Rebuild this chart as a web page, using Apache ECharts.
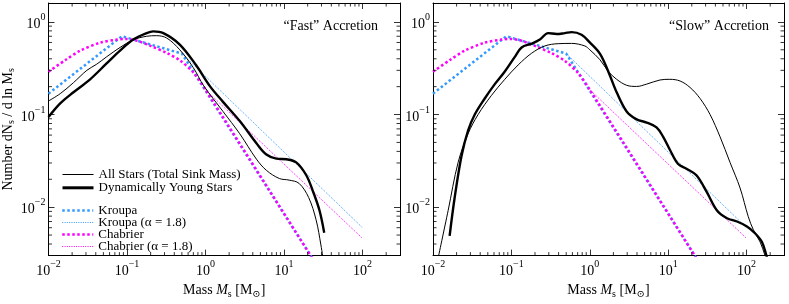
<!DOCTYPE html>
<html><head><meta charset="utf-8">
<script src="https://cdn.jsdelivr.net/npm/echarts@6/dist/echarts.min.js"></script>
<style>html,body{margin:0;padding:0;background:#fff}#c{width:789px;height:304px}</style>
</head><body><div id="c"></div>
<script>
const FONT = '"Liberation Serif", "DejaVu Serif", serif';

// ---- tick labels ----
const xTickValues = [0.01, 0.1, 1, 10, 100];
const xTickExps = ['\u22122', '\u22121', '0', '1', '2'];
const yTickValues = [0.01, 0.1, 1];
const yTickExps = ['\u22122', '\u22121', '0'];

// ---- reference IMFs (shared by both panels) ----
const kroupaM = [0.01, 0.086, 0.5, 25];
const kroupaV = [0.168, 0.70, 0.455, 0.0025];
const kroupa18M = [0.5, 100];
const kroupa18V = [0.455, 0.0060];
const chabrierM = [0.01, 0.0163, 0.0254, 0.0457, 0.075, 0.095, 0.135, 0.2, 0.325, 0.48, 0.71, 1.0, 25];
const chabrierV = [0.29, 0.386, 0.49, 0.597, 0.645, 0.655, 0.625, 0.55, 0.46, 0.38, 0.28, 0.185, 0.0025];
const chabrier18M = [1.0, 100];
const chabrier18V = [0.185, 0.0046];

// ---- "Fast" accretion ----
const fastAllM = [0.01, 0.0141, 0.0208, 0.0308, 0.0412, 0.055, 0.0815, 0.12, 0.178, 0.237, 0.32, 0.47, 0.7, 0.95, 1.67, 2.73, 4.45, 5.96, 8.7, 11.6, 15.5, 20.6, 25.6, 29.5, 32];
const fastAllV = [0.14, 0.168, 0.221, 0.30, 0.35, 0.42, 0.53, 0.64, 0.70, 0.71, 0.67, 0.50, 0.32, 0.204, 0.108, 0.062, 0.033, 0.025, 0.0204, 0.0196, 0.0181, 0.0127, 0.0073, 0.0039, 0.0025];
const fastYoungM = [0.01, 0.0141, 0.0208, 0.0339, 0.055, 0.0815, 0.12, 0.178, 0.216, 0.29, 0.47, 0.76, 1.13, 1.67, 2.73, 4.45, 5.96, 7.98, 10.7, 14.3, 19.2, 23.3, 28.3, 32.5];
const fastYoungV = [0.094, 0.132, 0.174, 0.24, 0.356, 0.49, 0.645, 0.757, 0.79, 0.757, 0.57, 0.34, 0.204, 0.137, 0.085, 0.049, 0.037, 0.0334, 0.0329, 0.0304, 0.0221, 0.0149, 0.0092, 0.0053];

// ---- "Slow" accretion ----
const slowAllM = [0.0116, 0.0156, 0.0209, 0.028, 0.0376, 0.0557, 0.0824, 0.122, 0.181, 0.267, 0.395, 0.586, 0.865, 1.0, 1.35, 1.72, 2.2, 2.95, 3.96, 5.31, 7.85, 10.5, 14.2, 19, 25.5, 34.2, 45.9, 61.5, 82.6, 105, 122, 149, 172, 185];
const slowAllV = [0.0028, 0.0092, 0.0304, 0.062, 0.10, 0.161, 0.24, 0.343, 0.459, 0.55, 0.582, 0.586, 0.55, 0.50, 0.39, 0.292, 0.24, 0.207, 0.201, 0.213, 0.236, 0.24, 0.23, 0.196, 0.149, 0.10, 0.0574, 0.0304, 0.0161, 0.0079, 0.0057, 0.0042, 0.003, 0.0025];
const slowYoungM = [0.0163, 0.0189, 0.0231, 0.028, 0.0341, 0.0457, 0.0614, 0.0824, 0.11, 0.135, 0.181, 0.231, 0.294, 0.377, 0.48, 0.586, 0.785, 1.0, 1.35, 1.72, 2.2, 2.95, 3.96, 5.31, 7.1, 8.63, 10.5, 13.4, 17.1, 22.9, 30.6, 41.9, 56.2, 75.4, 101, 126, 157, 179, 190];
const slowYoungV = [0.0049, 0.0127, 0.0357, 0.067, 0.10, 0.149, 0.213, 0.292, 0.417, 0.53, 0.582, 0.645, 0.757, 0.74, 0.757, 0.776, 0.727, 0.60, 0.452, 0.292, 0.174, 0.108, 0.0887, 0.082, 0.0728, 0.0574, 0.0417, 0.0292, 0.026, 0.0221, 0.0149, 0.0092, 0.0076, 0.0070, 0.0062, 0.0053, 0.0042, 0.003, 0.0025];

const NAMES = {
  all: 'All Stars (Total Sink Mass)',
  young: 'Dynamically Young Stars',
  k: 'Kroupa',
  k18: 'Kroupa (\u03b1 = 1.8)',
  c: 'Chabrier',
  c18: 'Chabrier (\u03b1 = 1.8)'
};
const BLUE = '#3399ff', MAG = '#ff00ff';
const XMIN = 0.01, XMAX = 300, YMIN = 0.003, YMAX = 1.6;

function zip(m, v) { return m.map((x, i) => [x, v[i]]); }

function expLabel(vals, exps) {
  return function (value) {
    for (let i = 0; i < vals.length; i++) {
      if (Math.abs(Math.log10(value) - Math.log10(vals[i])) < 1e-6) return '{b|10}{s|' + exps[i] + '}';
    }
    return '';
  };
}
const richLab = {
  b: { fontFamily: FONT, fontSize: 14, color: '#000', lineHeight: 19, verticalAlign: 'bottom' },
  s: { fontFamily: FONT, fontSize: 10, color: '#000', verticalAlign: 'top' }
};
const tickStyle = { inside: true, length: 6, lineStyle: { color: '#000', width: 0.8 } };
const lineAx = { show: true, lineStyle: { color: '#000', width: 1 } };
const nameRich = {
  r: { fontFamily: FONT, fontSize: 14, color: '#000', lineHeight: 17 },
  i: { fontFamily: FONT, fontSize: 14, color: '#000', fontStyle: 'italic', lineHeight: 17 },
  sub: { fontFamily: FONT, fontSize: 10, color: '#000', verticalAlign: 'bottom' }
};

function xAxes(g) {
  const base = { type: 'log', logBase: 10, gridIndex: g, min: XMIN, max: XMAX, splitLine: { show: false }, axisLine: lineAx, axisTick: tickStyle };
  return [
    Object.assign({}, base, {
      position: 'bottom',
      axisLabel: { formatter: expLabel(xTickValues, xTickExps), rich: richLab, margin: 4, showMinLabel: true, showMaxLabel: true },
      name: '{r|Mass }{i|M}{sub|s}{r| [M}{sub|\u2299}{r|]}',
      nameLocation: 'middle', nameGap: 19,
      nameTextStyle: { rich: nameRich }
    }),
    Object.assign({}, base, { position: 'top', axisLabel: { show: false } })
  ];
}
function yAxes(g, withName) {
  const base = { type: 'log', logBase: 10, gridIndex: g, min: YMIN, max: YMAX, splitNumber: 3, splitLine: { show: false }, axisLine: lineAx, axisTick: tickStyle };
  const left = Object.assign({}, base, {
    position: 'left',
    axisLabel: { formatter: expLabel(yTickValues, yTickExps), rich: richLab, margin: 3 }
  });
  if (withName) {
    Object.assign(left, {
      name: '{r|Number dN}{sub|s}{r| / d ln M}{sub|s}',
      nameLocation: 'middle', nameRotate: 90, nameGap: 32,
      nameTextStyle: { rich: {
        r: { fontFamily: FONT, fontSize: 14, color: '#000', lineHeight: 17 },
        sub: { fontFamily: FONT, fontSize: 10, color: '#000', verticalAlign: 'bottom' }
      } }
    });
  }
  return [left, Object.assign({}, base, { position: 'right', axisLabel: { show: false } })];
}

function ln(name, m, v, ax, color, width, type, z, smooth) {
  return {
    name: name, type: 'line', xAxisIndex: ax, yAxisIndex: ax, data: zip(m, v),
    symbol: 'none', showSymbol: false, smooth: smooth, clip: true, z: z, animation: false,
    lineStyle: { color: color, width: width, type: type, cap: 'butt' },
    itemStyle: { color: color }, emphasis: { disabled: true }
  };
}
function panelSeries(ax, allM, allV, youngM, youngV) {
  return [
    ln(NAMES.k, kroupaM, kroupaV, ax, BLUE, 2.5, [2.5, 2.5], 2, false),
    ln(NAMES.k18, kroupa18M, kroupa18V, ax, BLUE, 1, [1, 1.3], 2, false),
    ln(NAMES.c, chabrierM, chabrierV, ax, MAG, 2.5, [2.5, 2.5], 3, 0.3),
    ln(NAMES.c18, chabrier18M, chabrier18V, ax, MAG, 1, [1, 1.3], 3, false),
    ln(NAMES.all, allM, allV, ax, '#000', 1, 'solid', 5, 0.35),
    ln(NAMES.young, youngM, youngV, ax, '#000', 2.4, 'solid', 6, 0.35)
  ];
}

// minor ticks drawn through the axes' own log scales
function minorTicks(ax) {
  const data = [];
  for (let d = -3; d <= 2; d++) for (let k = 2; k <= 9; k++) {
    const v = k * Math.pow(10, d);
    if (v > XMIN && v < XMAX) data.push([v, 0.1, 0]);
    if (v > YMIN && v < YMAX) data.push([1, v, 1]);
  }
  return {
    type: 'custom', xAxisIndex: ax, yAxisIndex: ax, data: data, silent: true, z: 10, animation: false,
    encode: { x: 0, y: 1 },
    renderItem: function (params, api) {
      const r = params.coordSys;
      const p = api.coord([api.value(0), api.value(1)]);
      const L = 3.5, st = { stroke: '#000', lineWidth: 0.8 };
      if (api.value(2) === 0) {
        return { type: 'group', children: [
          { type: 'line', shape: { x1: p[0], y1: r.y + r.height, x2: p[0], y2: r.y + r.height - L }, style: st },
          { type: 'line', shape: { x1: p[0], y1: r.y, x2: p[0], y2: r.y + L }, style: st }
        ] };
      }
      return { type: 'group', children: [
        { type: 'line', shape: { x1: r.x, y1: p[1], x2: r.x + L, y2: p[1] }, style: st },
        { type: 'line', shape: { x1: r.x + r.width, y1: p[1], x2: r.x + r.width - L, y2: p[1] }, style: st }
      ] };
    }
  };
}

const legendText = { fontFamily: FONT, fontSize: 13, color: '#000', lineHeight: 12 };
const legendCommon = { orient: 'vertical', left: 61, padding: 0, itemWidth: 31, itemHeight: 10, textStyle: legendText, selectedMode: false, itemStyle: { opacity: 0 } };
function legItem(name, color, width, type) {
  return { name: name, lineStyle: { color: color, width: width, type: type }, itemStyle: { opacity: 0 } };
}
const option = {
  backgroundColor: '#fff',
  animation: false,
  title: [
    { text: '\u201cFast\u201d Accretion', right: 411, top: 19, padding: 0, textStyle: { fontFamily: FONT, fontSize: 14, fontWeight: 'normal', color: '#000' } },
    { text: '\u201cSlow\u201d Accretion', right: 20, top: 19, padding: 0, textStyle: { fontFamily: FONT, fontSize: 14, fontWeight: 'normal', color: '#000' } }
  ],
  grid: [
    { left: 48, top: 3, width: 352, height: 264 },
    { left: 433, top: 3, width: 351, height: 264 }
  ],
  xAxis: xAxes(0).concat(xAxes(1)),
  yAxis: yAxes(0, true).concat(yAxes(1, false)),
  legend: [
    Object.assign({}, legendCommon, {
      data: [legItem(NAMES.all, '#000', 1, 'solid'), legItem(NAMES.young, '#000', 3, 'solid')],
      top: 168, itemGap: 0.3
    }),
    Object.assign({}, legendCommon, {
      data: [legItem(NAMES.k, BLUE, 2.5, [2.5, 2.5]), legItem(NAMES.k18, BLUE, 1, [1, 1.3]),
             legItem(NAMES.c, MAG, 2.5, [2.5, 2.5]), legItem(NAMES.c18, MAG, 1, [1, 1.3])],
      top: 204, itemGap: -1
    })
  ],
  series: panelSeries(0, fastAllM, fastAllV, fastYoungM, fastYoungV)
    .concat(panelSeries(2, slowAllM, slowAllV, slowYoungM, slowYoungV))
    .concat([minorTicks(0), minorTicks(2)])
};
const chart = echarts.init(document.getElementById('c'), null, { renderer: 'canvas' });
chart.setOption(option);
</script></body></html>
